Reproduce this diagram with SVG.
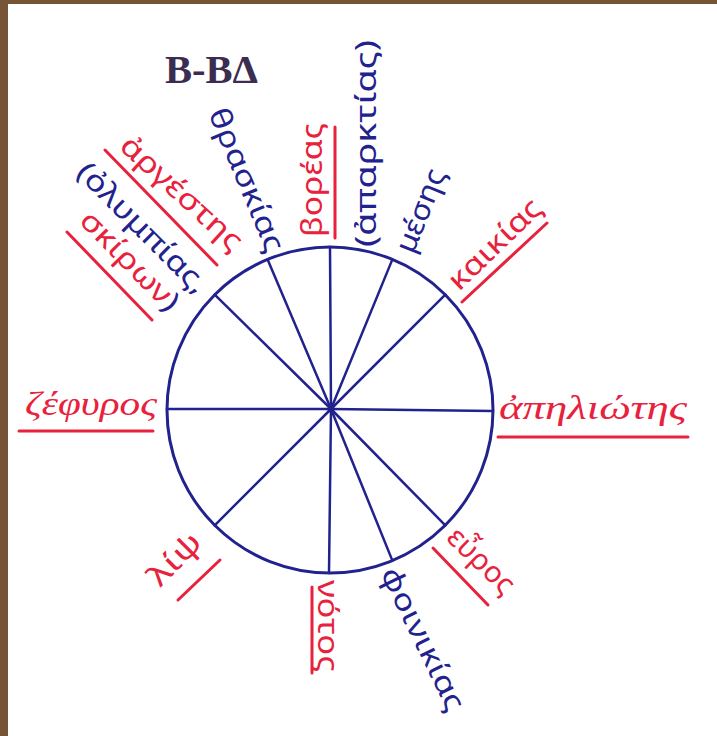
<svg xmlns="http://www.w3.org/2000/svg" width="717" height="736" viewBox="0 0 717 736">
<style>
.bg{fill:#ffffff}
.frame{fill:#785437}
.title{font-family:"Liberation Serif","Times New Roman",serif;font-weight:bold;font-size:40px;fill:#3b2d4f}
.lbl{font-family:"Noto Sans","DejaVu Sans",sans-serif;font-size:29px}
.ser{font-family:"Liberation Serif","DejaVu Serif",serif;font-style:italic;font-size:33px}
.red{fill:#e8213c}
.blue{fill:#22228e}
.ul{stroke:#e8213c;stroke-width:3;stroke-linecap:round;fill:none}
.wheel{stroke:#22228e;stroke-width:3;fill:none}
.spoke{stroke:#22228e;stroke-width:2.5;stroke-linecap:round}
</style>
<rect class="bg" x="0" y="0" width="717" height="736"/>
<rect class="frame" x="0" y="0" width="717" height="4"/>
<rect class="frame" x="0" y="0" width="8" height="736"/>

<g id="title"><text class="title" x="165" y="83" textLength="93" lengthAdjust="spacingAndGlyphs">B-BΔ</text></g>

<g id="wheel">
<circle class="wheel" cx="330" cy="410" r="163"/>
<circle cx="331" cy="409" r="3.5" fill="#22228e"/>
</g>

<g id="connectors">
<line class="spoke" x1="331" y1="409" x2="330" y2="247"/>
<line class="spoke" x1="331" y1="409" x2="267.6" y2="259.4"/>
<line class="spoke" x1="331" y1="409" x2="214.7" y2="294.7"/>
<line class="spoke" x1="331" y1="409" x2="167" y2="409"/>
<line class="spoke" x1="331" y1="409" x2="214.7" y2="525.3"/>
<line class="spoke" x1="331" y1="409" x2="329" y2="573"/>
<line class="spoke" x1="331" y1="409" x2="392.4" y2="560.6"/>
<line class="spoke" x1="331" y1="409" x2="445.3" y2="525.3"/>
<line class="spoke" x1="331" y1="409" x2="493" y2="411"/>
<line class="spoke" x1="331" y1="409" x2="445.3" y2="294.7"/>
<line class="spoke" x1="331" y1="409" x2="392.4" y2="259.4"/>
</g>

<g id="boreas">
<text class="lbl red" transform="translate(322,237) rotate(-90)" textLength="114" lengthAdjust="spacingAndGlyphs">βορέας</text>
<line class="ul" x1="335" y1="127" x2="335" y2="238"/>
</g>
<g id="aparktias">
<text class="lbl blue" transform="translate(376,247) rotate(-90)" textLength="207" lengthAdjust="spacingAndGlyphs">(ἀπαρκτίας)</text>
</g>
<g id="meses">
<text class="lbl blue" transform="translate(413,255) rotate(-68)" textLength="88" lengthAdjust="spacingAndGlyphs">μέσης</text>
</g>
<g id="kaikias">
<text class="lbl red" transform="translate(459,292) rotate(-44)" textLength="118" lengthAdjust="spacingAndGlyphs">καικίας</text>
<line class="ul" x1="462" y1="302" x2="547" y2="223"/>
</g>
<g id="apeliotes">
<text class="ser red" x="499" y="419" textLength="188" lengthAdjust="spacingAndGlyphs">ἀπηλιώτης</text>
<line class="ul" x1="498" y1="437" x2="688" y2="437"/>
</g>
<g id="euros">
<text class="lbl red" transform="translate(445,539) rotate(44)" textLength="82" lengthAdjust="spacingAndGlyphs">εὖρος</text>
<line class="ul" x1="433" y1="548" x2="488" y2="605"/>
</g>
<g id="phoinikias">
<text class="lbl blue" transform="translate(380,573) rotate(64)" textLength="156" lengthAdjust="spacingAndGlyphs">φοινικίας</text>
</g>
<g id="notos">
<text class="lbl red" transform="translate(318,580) rotate(90)" textLength="92" lengthAdjust="spacingAndGlyphs">νότος</text>
<line class="ul" x1="312" y1="587" x2="312" y2="673"/>
</g>
<g id="lips">
<text class="lbl red" transform="translate(160,588) rotate(-45)" textLength="62" lengthAdjust="spacingAndGlyphs">λίψ</text>
<line class="ul" x1="178" y1="600" x2="220" y2="560"/>
</g>
<g id="zephyros">
<text class="ser red" x="25" y="415" textLength="132" lengthAdjust="spacingAndGlyphs">ζέφυρος</text>
<line class="ul" x1="19" y1="431" x2="153" y2="431"/>
</g>
<g id="thraskias">
<text class="lbl blue" transform="translate(208,113) rotate(67.3)" textLength="153" lengthAdjust="spacingAndGlyphs">θρασκίας</text>
</g>
<g id="argestes">
<text class="lbl red" transform="translate(118,148) rotate(42.5)" textLength="155" lengthAdjust="spacingAndGlyphs">ἀργέστης</text>
<line class="ul" x1="105" y1="150" x2="217" y2="265"/>
</g>
<g id="olympias">
<text class="lbl blue" transform="translate(75,174) rotate(45)" textLength="172" lengthAdjust="spacingAndGlyphs">(ὀλυμπίας,</text>
</g>
<g id="skiron">
<text class="lbl red" transform="translate(78,222) rotate(45.5)" textLength="128" lengthAdjust="spacingAndGlyphs">σκίρων<tspan class="blue">)</tspan></text>
<line class="ul" x1="67" y1="232" x2="152" y2="320"/>
</g>
</svg>
